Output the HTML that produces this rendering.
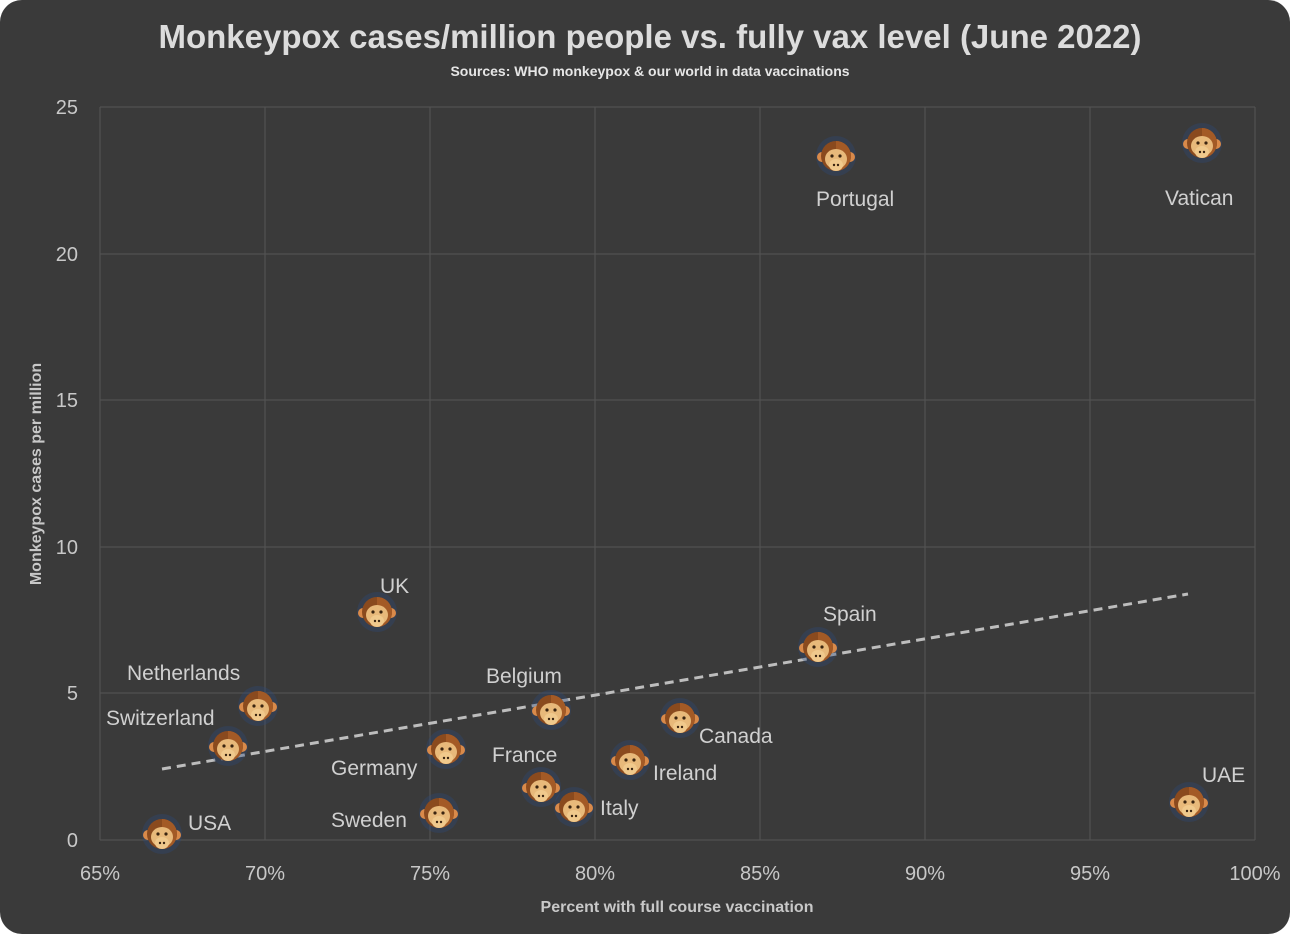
<!DOCTYPE html>
<html><head><style>
html,body{margin:0;padding:0;background:#fff;}
body{width:1290px;height:934px;overflow:hidden;}
svg{display:block;}
text{font-family:"Liberation Sans",sans-serif;}
</style></head><body>
<svg width="1290" height="934" viewBox="0 0 1290 934">
<defs>
<g id="m">
<circle r="20" fill="#2f4a7a" opacity="0.35"/>
<circle cx="-14" cy="1" r="5" fill="#d98a4a"/>
<circle cx="14" cy="1" r="5" fill="#d98a4a"/>
<circle r="15" fill="#8a4a1e"/>
<path d="M0,-15 A15,15 0 0,1 0,15 Z" fill="#a35a26"/>
<ellipse cx="0" cy="3" rx="11" ry="10" fill="#e8b97a"/>
<ellipse cx="0" cy="9" rx="7" ry="6" fill="#f0c98c"/>
<circle cx="-4" cy="0" r="1.6" fill="#3a2410"/>
<circle cx="4" cy="0" r="1.6" fill="#3a2410"/>
<circle cx="-2" cy="9" r="1.2" fill="#3a2410"/>
<circle cx="2" cy="9" r="1.2" fill="#3a2410"/>
</g>
</defs>
<rect x="0" y="0" width="1290" height="934" rx="22" fill="#3a3a3a"/>
<text x="650" y="48" text-anchor="middle" font-size="33" font-weight="bold" fill="#dcdcdc">Monkeypox cases/million people vs. fully vax level (June 2022)</text>
<text x="650" y="76" text-anchor="middle" font-size="14" font-weight="bold" fill="#e6e6e6">Sources: WHO monkeypox &amp; our world in data vaccinations</text>
<g stroke="#555" stroke-width="1">
<line x1="100" y1="107" x2="1255" y2="107"/><line x1="100" y1="254" x2="1255" y2="254"/>
<line x1="100" y1="400" x2="1255" y2="400"/><line x1="100" y1="547" x2="1255" y2="547"/>
<line x1="100" y1="693" x2="1255" y2="693"/><line x1="100" y1="840" x2="1255" y2="840"/>
<line x1="100" y1="107" x2="100" y2="840"/><line x1="265" y1="107" x2="265" y2="840"/>
<line x1="430" y1="107" x2="430" y2="840"/><line x1="595" y1="107" x2="595" y2="840"/>
<line x1="760" y1="107" x2="760" y2="840"/><line x1="925" y1="107" x2="925" y2="840"/>
<line x1="1090" y1="107" x2="1090" y2="840"/><line x1="1255" y1="107" x2="1255" y2="840"/>
</g>
<g font-size="20" fill="#c8c8c8" text-anchor="end">
<text x="78" y="114">25</text><text x="78" y="261">20</text><text x="78" y="407">15</text>
<text x="78" y="554">10</text><text x="78" y="700">5</text><text x="78" y="847">0</text>
</g>
<g font-size="20" fill="#c8c8c8" text-anchor="middle">
<text x="100" y="880">65%</text><text x="265" y="880">70%</text><text x="430" y="880">75%</text>
<text x="595" y="880">80%</text><text x="760" y="880">85%</text><text x="925" y="880">90%</text>
<text x="1090" y="880">95%</text><text x="1255" y="880">100%</text>
</g>
<text x="677" y="912" text-anchor="middle" font-size="16" font-weight="bold" fill="#c8c8c8">Percent with full course vaccination</text>
<text transform="translate(41,474) rotate(-90)" text-anchor="middle" font-size="16" font-weight="bold" fill="#c8c8c8">Monkeypox cases per million</text>
<line x1="162" y1="769" x2="1188" y2="594" stroke="#bdbdbd" stroke-width="3" stroke-dasharray="9,6"/>
<use href="#m" x="836" y="156"/><use href="#m" x="1202" y="143"/><use href="#m" x="377" y="612"/>
<use href="#m" x="818" y="647"/><use href="#m" x="258" y="706"/><use href="#m" x="228" y="746"/>
<use href="#m" x="551" y="710"/><use href="#m" x="680" y="718"/><use href="#m" x="446" y="749"/>
<use href="#m" x="630" y="760"/><use href="#m" x="541" y="787"/><use href="#m" x="574" y="807"/>
<use href="#m" x="439" y="813"/><use href="#m" x="162" y="834"/><use href="#m" x="1189" y="802"/>
<g font-size="21" fill="#d0d0d0">
<text x="816" y="206">Portugal</text><text x="1165" y="205">Vatican</text><text x="380" y="593">UK</text>
<text x="823" y="621">Spain</text><text x="127" y="680">Netherlands</text><text x="106" y="725">Switzerland</text>
<text x="486" y="683">Belgium</text><text x="699" y="743">Canada</text><text x="331" y="775">Germany</text>
<text x="653" y="780">Ireland</text><text x="492" y="762">France</text><text x="600" y="815">Italy</text>
<text x="331" y="827">Sweden</text><text x="188" y="830">USA</text><text x="1202" y="782">UAE</text>
</g>
</svg>
</body></html>
